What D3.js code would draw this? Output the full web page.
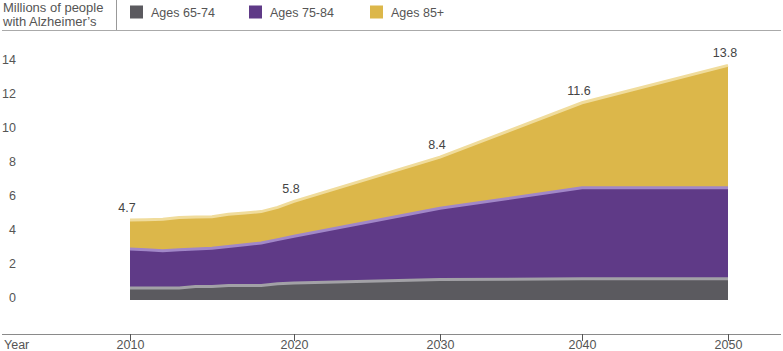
<!DOCTYPE html>
<html>
<head>
<meta charset="utf-8">
<script src="https://cdn.jsdelivr.net/npm/d3@7"></script>
<style>
  body { margin: 0; background: #fff; }
  svg { font-family: "Liberation Sans", Arial, sans-serif; }
</style>
</head>
<body>
<div id="chart"></div>
<script>
// yearly to 2020, then by decade
const years = [2010, 2011, 2012, 2013, 2014, 2015, 2016, 2017, 2018, 2019, 2020, 2030, 2040, 2050];
const ages6574 = [0.7, 0.7, 0.7, 0.7, 0.8, 0.8, 0.85, 0.85, 0.85, 0.95, 1.0, 1.2, 1.25, 1.25];
const ages7584 = [2.3, 2.25, 2.2, 2.25, 2.2, 2.25, 2.3, 2.4, 2.5, 2.6, 2.75, 4.2, 5.35, 5.35];
const ages85 = [1.7, 1.77, 1.85, 1.9, 1.88, 1.85, 1.9, 1.87, 1.85, 1.9, 2.05, 3.0, 5.0, 7.2];

const seriesNames = ["Ages 65-74", "Ages 75-84", "Ages 85+"];
const labelYears = [2010, 2020, 2030, 2040, 2050];
const labelTotals = [4.7, 5.8, 8.4, 11.6, 13.8];
const yTicks = [0, 2, 4, 6, 8, 10, 12, 14];
const xTicks = [2010, 2020, 2030, 2040, 2050];

const fills = ["#5b5a5f", "#5f3a87", "#dcb74a"];
const edges = ["#a2a1a6", "#a187c8", "#f0dc9c"];

const width = 783, height = 351;

const svg = d3.select("#chart").append("svg")
  .attr("width", width)
  .attr("height", height);

// the decade steps are not evenly spaced in the original
const x = d3.scaleLinear()
  .domain(xTicks)
  .range([130, 294, 440, 582, 728]);

const y = d3.scaleLinear().domain([0, 14]).range([300, 62]);

const rows = years.map((yr, i) => ({
  year: yr,
  [seriesNames[0]]: ages6574[i],
  [seriesNames[1]]: ages7584[i],
  [seriesNames[2]]: ages85[i],
}));

const stacked = d3.stack().keys(seriesNames)(rows);

const area = d3.area()
  .x((d) => x(d.data.year))
  .y0((d) => y(d[0]))
  .y1((d) => y(d[1]));

const topLine = d3.line()
  .x((d) => x(d.data.year))
  .y((d) => y(d[1]));

svg.append("g")
  .selectAll("path")
  .data(stacked)
  .join("path")
  .attr("d", area)
  .attr("fill", (d, i) => fills[i]);

// lighter band along the top of each layer
svg.append("g")
  .selectAll("path")
  .data(stacked)
  .join("path")
  .attr("d", topLine)
  .attr("fill", "none")
  .attr("stroke", (d, i) => edges[i])
  .attr("stroke-width", 3);

// total labels
svg.append("g")
  .selectAll("text")
  .data(labelTotals)
  .join("text")
  .attr("x", (d, i) => x(labelYears[i]) - 3)
  .attr("y", (d) => y(d) - 8)
  .attr("text-anchor", "middle")
  .attr("font-size", 12.5)
  .attr("fill", "#444")
  .text((d) => d.toFixed(1));

// y axis
const yAxis = svg.append("g")
  .attr("transform", "translate(16,0)")
  .call(d3.axisLeft(y).tickValues(yTicks).tickSize(0).tickPadding(0));
yAxis.select(".domain").remove();
yAxis.selectAll("text")
  .attr("font-size", 12.5)
  .attr("fill", "#555")
  .attr("dy", "0.1em");

// x axis
svg.append("line")
  .attr("x1", 2).attr("x2", 781)
  .attr("y1", 334.5).attr("y2", 334.5)
  .attr("stroke", "#8a8a8a");

const xAxis = svg.append("g")
  .attr("transform", "translate(0,334)")
  .call(d3.axisBottom(x).tickValues(xTicks).tickFormat(d3.format("d")).tickSize(7).tickSizeOuter(0));
xAxis.select(".domain").remove();
xAxis.selectAll("line").attr("stroke", "#555");
xAxis.selectAll("text")
  .attr("font-size", 12.5)
  .attr("fill", "#555")
  .attr("y", 14.5)
  .attr("dy", 0);

svg.append("text")
  .attr("x", 4).attr("y", 348.5)
  .attr("font-size", 12.5)
  .attr("fill", "#555")
  .text("Year");

// header with unit label and legend
svg.append("text")
  .attr("x", 3).attr("y", 12)
  .attr("font-size", 13)
  .attr("fill", "#555")
  .text("Millions of people");
svg.append("text")
  .attr("x", 3).attr("y", 25.5)
  .attr("font-size", 13)
  .attr("fill", "#555")
  .text("with Alzheimer\u2019s");

svg.append("line")
  .attr("x1", 116.5).attr("x2", 116.5)
  .attr("y1", 0).attr("y2", 30)
  .attr("stroke", "#999");
svg.append("line")
  .attr("x1", 2).attr("x2", 781)
  .attr("y1", 30.5).attr("y2", 30.5)
  .attr("stroke", "#aaa");

const legendX = [130, 249, 370];
const legend = svg.append("g")
  .selectAll("g")
  .data(seriesNames)
  .join("g")
  .attr("transform", (d, i) => `translate(${legendX[i]},5.5)`);
legend.append("rect")
  .attr("width", 13).attr("height", 13)
  .attr("fill", (d, i) => fills[i]);
legend.append("text")
  .attr("x", 21).attr("y", 11)
  .attr("font-size", 12.5)
  .attr("fill", "#555")
  .text((d) => d);
</script>
</body>
</html>
